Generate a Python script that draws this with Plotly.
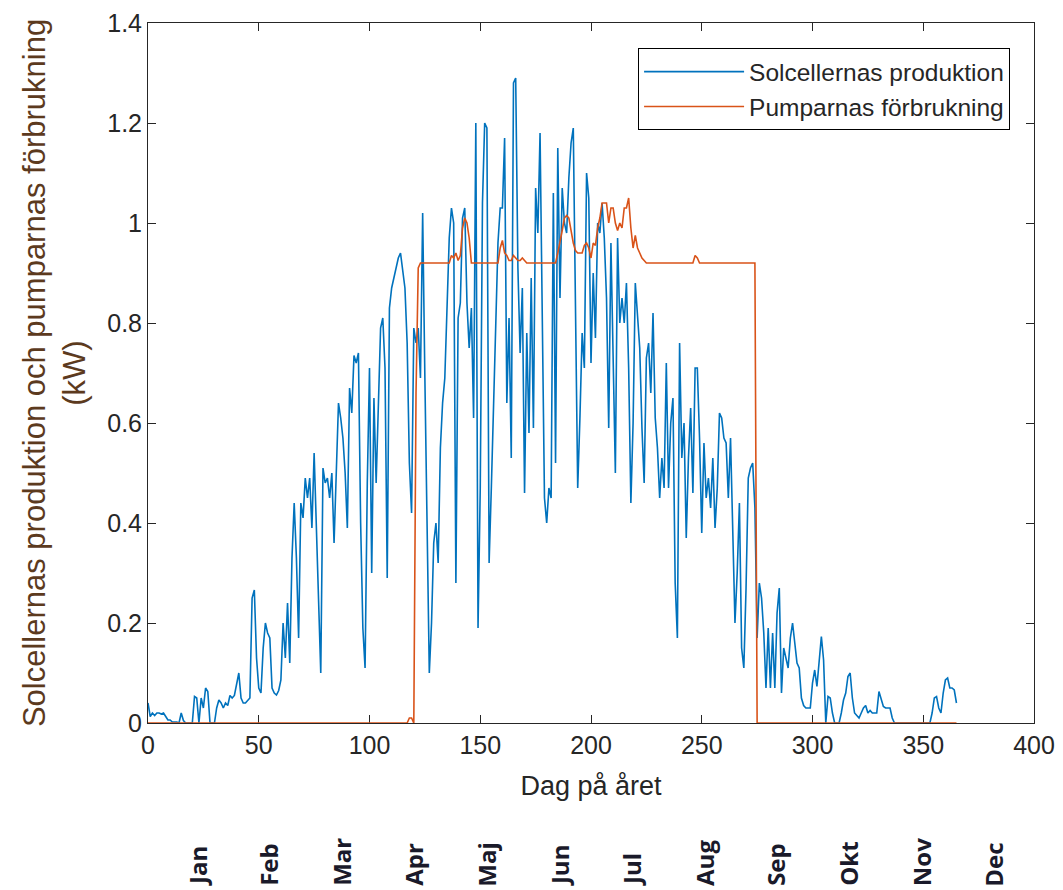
import plotly.graph_objects as go

# ---- data -------------------------------------------------------------
days = list(range(0, 366))

solar = [
    0.04, 0.013, 0.02, 0.015, 0.02, 0.02, 0.018, 0.02, 0.013, 0.006,      # 0-9
    0.006, 0.002, 0.002, 0.002, 0.0, 0.02, 0.005, 0.0, 0.0, 0.0,         # 10-19
    0.0, 0.053, 0.05, 0.0, 0.05, 0.03, 0.07, 0.063, 0.0, 0.0,            # 20-29
    0.0, 0.03, 0.046, 0.04, 0.03, 0.04, 0.035, 0.055, 0.05, 0.055,       # 30-39
    0.08, 0.10, 0.05, 0.04, 0.04, 0.045, 0.05, 0.25, 0.266, 0.13,        # 40-49
    0.07, 0.06, 0.15, 0.20, 0.18, 0.17, 0.07, 0.06, 0.056, 0.065,        # 50-59
    0.086, 0.20, 0.13, 0.24, 0.12, 0.33, 0.44, 0.33, 0.17, 0.44,         # 60-69
    0.41, 0.49, 0.45, 0.49, 0.39, 0.54, 0.39, 0.25, 0.10, 0.51,          # 70-79
    0.48, 0.49, 0.45, 0.50, 0.36, 0.50, 0.64, 0.61, 0.57, 0.50,          # 80-89
    0.39, 0.67, 0.62, 0.735, 0.72, 0.74, 0.40, 0.19, 0.11, 0.48,         # 90-99
    0.71, 0.30, 0.65, 0.48, 0.63, 0.79, 0.81, 0.71, 0.29, 0.83,          # 100-109
    0.87, 0.89, 0.91, 0.93, 0.94, 0.91, 0.87, 0.76, 0.52, 0.42,          # 110-119
    0.79, 0.76, 0.79, 0.69, 1.02, 0.69, 0.36, 0.10, 0.20, 0.36,          # 120-129
    0.40, 0.32, 0.55, 0.64, 0.69, 0.84, 0.97, 1.03, 1.00, 0.28,          # 130-139
    0.81, 0.84, 1.01, 1.03, 0.84, 0.75, 0.83, 0.61, 1.20, 0.19,          # 140-149
    0.47, 1.04, 1.20, 1.19, 0.32, 0.47, 0.63, 0.84, 0.96, 1.03,          # 150-159
    1.03, 1.17, 0.64, 0.81, 0.53, 1.28, 1.29, 0.91, 0.74, 0.87,          # 160-169
    0.46, 0.78, 0.58, 0.89, 0.59, 1.07, 0.98, 1.18, 0.77, 0.45,          # 170-179
    0.40, 0.47, 0.45, 1.06, 0.52, 1.15, 0.85, 1.07, 1.00, 0.98,          # 180-189
    1.09, 1.16, 1.19, 0.85, 0.47, 0.61, 0.78, 0.71, 1.10, 1.05,          # 190-199
    0.72, 0.90, 0.77, 1.00, 0.98, 1.04, 0.97, 0.85, 0.59, 0.96,          # 200-209
    0.70, 0.50, 0.97, 0.80, 0.85, 0.80, 0.88, 0.71, 0.44, 0.60,          # 210-219
    0.88, 0.82, 0.75, 0.59, 0.48, 0.73, 0.76, 0.66, 0.82, 0.61,          # 220-229
    0.55, 0.45, 0.53, 0.47, 0.72, 0.47, 0.60, 0.65, 0.28, 0.17,          # 230-239
    0.76, 0.53, 0.60, 0.37, 0.53, 0.63, 0.46, 0.71, 0.71, 0.57,          # 240-249
    0.38, 0.56, 0.45, 0.49, 0.43, 0.53, 0.39, 0.47, 0.62, 0.61,          # 250-259
    0.57, 0.56, 0.45, 0.57, 0.40, 0.20, 0.30, 0.44, 0.15, 0.11,          # 260-269
    0.27, 0.49, 0.51, 0.52, 0.43, 0.17, 0.28, 0.25, 0.18, 0.07,          # 270-279
    0.19, 0.07, 0.18, 0.07, 0.22, 0.27, 0.06, 0.15, 0.13, 0.11,          # 280-289
    0.17, 0.20, 0.16, 0.12, 0.11, 0.05, 0.035, 0.03, 0.03, 0.03,         # 290-299
    0.08, 0.106, 0.073, 0.12, 0.173, 0.126, 0.0, 0.053, 0.05, 0.02,      # 300-309
    0.0, 0.0, 0.0, 0.02, 0.046, 0.06, 0.093, 0.10, 0.05, 0.02,           # 310-319
    0.015, 0.01, 0.02, 0.03, 0.035, 0.02, 0.025, 0.02, 0.02, 0.02,       # 320-329
    0.063, 0.05, 0.033, 0.03, 0.03, 0.03, 0.01, 0.0, 0.0, 0.0,           # 330-339
    0.0, 0.0, 0.0, 0.0, 0.0, 0.0, 0.0, 0.0, 0.0, 0.0,                    # 340-349
    0.0, 0.0, 0.0, 0.0, 0.02, 0.05, 0.053, 0.03, 0.02, 0.06,             # 350-359
    0.086, 0.09, 0.07, 0.07, 0.066, 0.04,                                # 360-365
]

pump = (
    [0.0] * 118                                                          # 0-117
    + [0.01, 0.01, 0.0, 0.66, 0.91]                                      # 118-122
    + [0.92] * 14                                                        # 123-136
    + [0.935, 0.93, 0.94, 0.925, 0.935, 0.99, 1.01, 1.00, 0.97]          # 137-145
    + [0.92] * 13                                                        # 146-158
    + [0.95, 0.965, 0.94, 0.935, 0.925, 0.925, 0.935, 0.93, 0.925,
       0.925, 0.93, 0.925]                                               # 159-170
    + [0.92] * 14                                                        # 171-184
    + [0.94, 0.96, 0.985, 1.01, 1.015, 1.01, 0.98, 0.96, 0.945, 0.94,
       0.94, 0.94, 0.955, 0.96, 0.95, 0.93, 0.96, 0.955, 0.99, 1.01,
       1.04, 1.04, 1.04, 1.00, 1.03, 1.03, 1.00, 0.985, 1.00, 0.99,
       1.03, 1.03, 1.05, 0.99, 0.95, 0.975, 0.95, 0.94, 0.93, 0.925]     # 185-224
    + [0.92] * 22                                                        # 225-246
    + [0.935, 0.93]                                                      # 247-248
    + [0.92] * 26                                                        # 249-274
    + [0.0] * 91                                                         # 275-365
)

months = ["Jan", "Feb", "Mar", "Apr", "Maj", "Jun",
          "Jul", "Aug", "Sep", "Okt", "Nov", "Dec"]

series_names = ["Solcellernas produktion", "Pumparnas förbrukning"]

# ---- figure -----------------------------------------------------------
BLUE = "#0072BD"
ORANGE = "#D95319"
AX = "#262626"

fig = go.Figure()
fig.add_trace(go.Scatter(x=days, y=solar, mode="lines", name=series_names[0],
                         line=dict(color=BLUE, width=1.6)))
fig.add_trace(go.Scatter(x=days, y=pump, mode="lines", name=series_names[1],
                         line=dict(color=ORANGE, width=1.6)))

axis_common = dict(showline=True, linecolor=AX, linewidth=1, mirror="ticks",
                   ticks="inside", ticklen=8, tickcolor=AX, tickwidth=1,
                   showgrid=False, zeroline=False,
                   tickfont=dict(family="Liberation Sans, Arial", size=25, color=AX),
                   layer="below traces")

fig.update_xaxes(range=[0, 400], dtick=50, tick0=0,
                 title=dict(text="Dag på året", standoff=18,
                            font=dict(family="Liberation Sans, Arial", size=27, color=AX)),
                 **axis_common)
fig.update_yaxes(range=[0, 1.4], dtick=0.2, tick0=0,
                 title=dict(text="Solcellernas produktion och pumparnas förbrukning<br>(kW)",
                            standoff=12,
                            font=dict(family="Liberation Sans, Arial", size=31, color="#5c3a1e")),
                 **axis_common)

annotations = []
for i, m in enumerate(months):
    annotations.append(dict(
        text=m, x=22 + i * 32.7, xref="x", y=-0.236, yref="paper",
        xanchor="center", yanchor="bottom", textangle=-90, showarrow=False,
        font=dict(family="Open Sans", size=24, color="#1a1a2a", weight="bold")))

fig.update_layout(
    width=1063, height=890,
    margin=dict(l=148, r=29, t=23, b=167, autoexpand=False),
    paper_bgcolor="white", plot_bgcolor="white",
    showlegend=True,
    legend=dict(x=0.973, y=0.964, xanchor="right", yanchor="top",
                bgcolor="white", bordercolor="#000000", borderwidth=1,
                font=dict(family="Liberation Sans, Arial", size=24.5, color=AX),
                itemwidth=100, tracegroupgap=0),
    annotations=annotations,
)

fig.write_html("out.html")
